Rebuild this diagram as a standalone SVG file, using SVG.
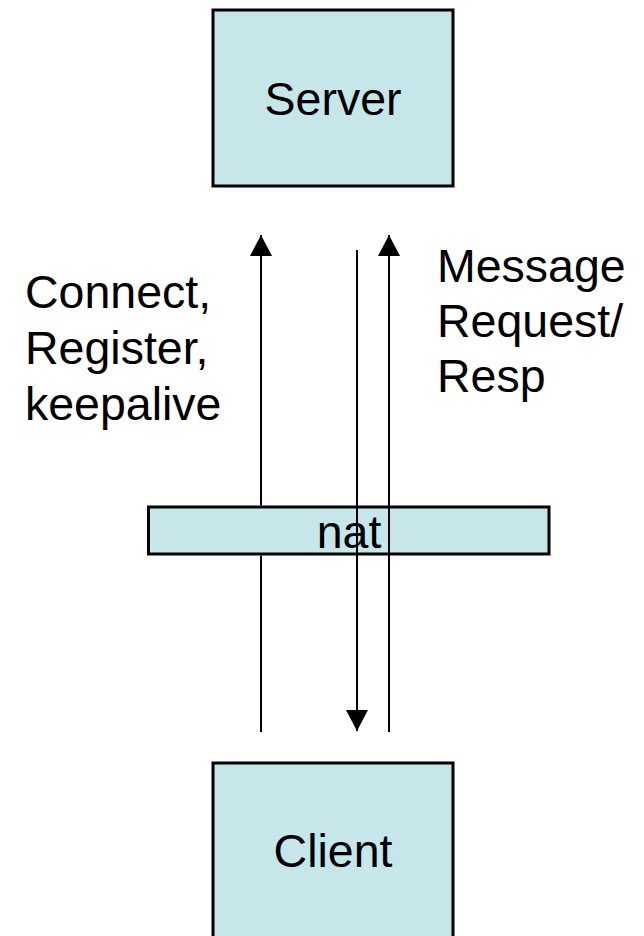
<svg xmlns="http://www.w3.org/2000/svg" width="644" height="936" viewBox="0 0 644 936">
  <style>
    .box { fill: #c6e6ea; stroke: #000; stroke-width: 3; }
    .lbl { font-family: "Liberation Sans", Arial, sans-serif; font-size: 46.5px; fill: #000; }
    .mid { text-anchor: middle; }
    .wire { stroke: #000; stroke-width: 2; fill: none; }
  </style>
  <defs>
    <marker id="head" markerUnits="userSpaceOnUse" markerWidth="22" markerHeight="22" viewBox="0 0 22 22" refX="21" refY="11" orient="auto">
      <path d="M0,0 L21,11 L0,22 Z" fill="#000"/>
    </marker>
  </defs>

  <rect width="644" height="936" fill="#fff"/>

  <g id="server">
    <rect class="box" x="213" y="10" width="240" height="176"/>
    <text class="lbl mid" x="333" y="115">Server</text>
  </g>

  <g id="client">
    <rect class="box" x="213" y="763" width="240" height="190"/>
    <text class="lbl mid" x="333" y="867">Client</text>
  </g>

  <g id="nat">
    <rect class="box" x="148.5" y="507" width="400.5" height="47"/>
    <text class="lbl mid" x="349" y="548">nat</text>
  </g>

  <g id="connectors">
    <!-- client to server: interrupted by the nat bar -->
    <line class="wire" x1="261" y1="732" x2="261" y2="555.5"/>
    <line class="wire" x1="261" y1="505.5" x2="261" y2="235" marker-end="url(#head)"/>
    <!-- server to client -->
    <line class="wire" x1="357" y1="250" x2="357" y2="731" marker-end="url(#head)"/>
    <!-- client to server, message path -->
    <line class="wire" x1="389" y1="732" x2="389" y2="235" marker-end="url(#head)"/>
  </g>

  <g id="labels">
    <text class="lbl" x="25" y="308">Connect,</text>
    <text class="lbl" x="25" y="364">Register,</text>
    <text class="lbl" x="25" y="420">keepalive</text>
    <text class="lbl" x="437" y="282">Message</text>
    <text class="lbl" x="437" y="337">Request/</text>
    <text class="lbl" x="437" y="392">Resp</text>
  </g>
</svg>
